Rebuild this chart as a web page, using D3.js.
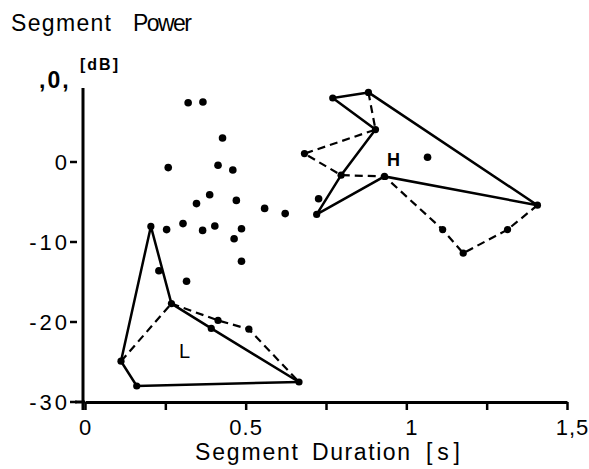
<!DOCTYPE html>
<html>
<head>
<meta charset="utf-8">
<script src="https://cdn.jsdelivr.net/npm/d3@7"></script>
<style>
  body { margin: 0; background: #fff; }
  text { font-family: "Liberation Sans", Arial, sans-serif; fill: #000; }
</style>
</head>
<body>
<script>
var margin = { top: 82, right: 22, bottom: 67, left: 85 },
  width = 589 - margin.left - margin.right,
  height = 469 - margin.top - margin.bottom;

// duration [s], power [dB] -- loose points
var scatterDur = [0.321, 0.367, 0.428, 0.259, 0.414, 0.460, 0.388, 0.347, 0.471, 0.559, 0.623,
  0.254, 0.305, 0.366, 0.404, 0.487, 0.464, 0.487, 0.230, 0.316, 0.727, 1.066];
var scatterPow = [7.4, 7.5, 3.0, -0.7, -0.4, -1.0, -4.1, -5.2, -4.8, -5.8, -6.45,
  -8.45, -7.7, -8.55, -8.0, -8.35, -9.6, -12.4, -13.6, -14.9, -4.6, 0.6];

// "L" group vertices
var lDur = { A: 0.205, B: 0.269, C: 0.393, D: 0.666, E: 0.161, F: 0.112, G: 0.414, I: 0.510 };
var lPow = { A: -8.05, B: -17.7, C: -20.8, D: -27.5, E: -28.0, F: -24.9, G: -19.8, I: -20.9 };
var lSolid = [["A", "B", "C", "D"], ["A", "F", "E", "D"]];
var lDashed = [["F", "B"], ["B", "G", "I", "D"]];

// "H" group vertices
var hDur = { P1: 0.771, P2: 0.882, P3: 0.904, P4: 0.683, P5: 0.797, P6: 0.932,
  P7: 0.721, P8: 1.408, P9: 1.113, P10: 1.177, P11: 1.315 };
var hPow = { P1: 8.0, P2: 8.7, P3: 4.05, P4: 1.05, P5: -1.65, P6: -1.8,
  P7: -6.55, P8: -5.4, P9: -8.45, P10: -11.4, P11: -8.45 };
var hSolid = [["P2", "P1", "P3", "P5", "P7", "P6", "P8", "P2"]];
var hDashed = [["P2", "P3", "P4", "P5", "P6", "P9", "P10", "P11", "P8"]];

var xTicks = [0, 0.25, 0.5, 0.75, 1, 1.25, 1.5];
var xTickLabels = { 0: "0", 0.5: "0.5", 1: "1", 1.5: "1,5" };
var yTicks = [0, -10, -20, -30];
var yTickLabels = ["0", "-10", "-20", "-30"];

var x = d3.scaleLinear().domain([0, 1.5]).range([0, width]);
var y = d3.scaleLinear().domain([-30, 10]).range([height, 0]);

var svg = d3.select("body").append("svg")
  .attr("width", width + margin.left + margin.right)
  .attr("height", height + margin.top + margin.bottom)
  .append("g")
  .attr("transform", "translate(" + margin.left + "," + margin.top + ")");

// titles
var t1 = svg.append("text").attr("y", -51).style("font-size", "23px");
t1.append("tspan").attr("x", -74).attr("textLength", 100).text("Segment");
t1.append("tspan").attr("x", 48).attr("textLength", 59).text("Power");

var t2 = svg.append("text").attr("y", height + 58).style("font-size", "23px");
t2.append("tspan").attr("x", 110).attr("textLength", 103).text("Segment");
t2.append("tspan").attr("x", 227).attr("textLength", 98).text("Duration");
t2.append("tspan").attr("x", 341).attr("textLength", 34).text("[s]");

// x axis
var xAxis = svg.append("g")
  .attr("transform", "translate(0," + height + ")")
  .call(d3.axisBottom(x).tickValues(xTicks).tickSize(8).tickSizeOuter(0).tickPadding(9)
    .tickFormat(function (d) { return xTickLabels[d] || ""; }));
xAxis.select(".domain").attr("stroke-width", 3);
xAxis.selectAll(".tick line").attr("stroke-width", 2.5);
xAxis.selectAll(".tick text").style("font-size", "22px").attr("font-family", null)
  .style("letter-spacing", "1px")
  .attr("dx", function (d) { return d >= 1 ? 5 : 0; });
svg.append("line").attr("x1", -10).attr("x2", 0).attr("y1", height).attr("y2", height)
  .attr("stroke", "#000").attr("stroke-width", 3);

// y axis
svg.append("line").attr("x1", -2).attr("x2", -2).attr("y1", 6).attr("y2", height + 8)
  .attr("stroke", "#000").attr("stroke-width", 3);
svg.selectAll(".ytick").data(yTicks).enter().append("line")
  .attr("x1", -15).attr("x2", -8)
  .attr("y1", y).attr("y2", y)
  .attr("stroke", "#000").attr("stroke-width", 2.5);
svg.selectAll(".ylab").data(yTicks).enter().append("text")
  .attr("x", -15).attr("y", y).attr("dy", "0.36em")
  .attr("text-anchor", "end")
  .style("font-size", "22px").style("letter-spacing", "3px")
  .text(function (d, i) { return yTickLabels[i]; });

svg.append("text").attr("x", -46).attr("y", y(10) + 6)
  .style("font-size", "23px").style("font-weight", "bold").style("letter-spacing", "2px")
  .text(",0,");
svg.append("text").attr("x", -5).attr("y", y(10) - 12)
  .style("font-size", "16px").style("font-weight", "bold").style("letter-spacing", "2px")
  .text("[dB]");

// polygons
var line = d3.line();
function drawPaths(paths, dur, pow, dashed) {
  svg.selectAll(null).data(paths).enter().append("path")
    .attr("d", function (p) { return line(p.map(function (k) { return [x(dur[k]), y(pow[k])]; })); })
    .attr("fill", "none").attr("stroke", "#000")
    .attr("stroke-width", dashed ? 2.2 : 2.5)
    .attr("stroke-dasharray", dashed ? "8,5" : null);
}
drawPaths(lSolid, lDur, lPow, false);
drawPaths(lDashed, lDur, lPow, true);
drawPaths(hSolid, hDur, hPow, false);
drawPaths(hDashed, hDur, hPow, true);

// vertices
svg.selectAll(null).data(Object.keys(lDur)).enter().append("circle")
  .attr("cx", function (k) { return x(lDur[k]); })
  .attr("cy", function (k) { return y(lPow[k]); })
  .attr("r", 3.6);
svg.selectAll(null).data(Object.keys(hDur)).enter().append("circle")
  .attr("cx", function (k) { return x(hDur[k]); })
  .attr("cy", function (k) { return y(hPow[k]); })
  .attr("r", 3.6);

// loose points
svg.selectAll(null).data(scatterDur).enter().append("circle")
  .attr("cx", function (d) { return x(d); })
  .attr("cy", function (d, i) { return y(scatterPow[i]); })
  .attr("r", 3.8);

// group labels
svg.append("text").attr("x", x(0.96)).attr("y", y(-0.5))
  .attr("text-anchor", "middle").style("font-size", "18px").style("font-weight", "bold").text("H");
svg.append("text").attr("x", x(0.31)).attr("y", y(-24.5))
  .attr("text-anchor", "middle").style("font-size", "20px").text("L");
</script>
</body>
</html>
